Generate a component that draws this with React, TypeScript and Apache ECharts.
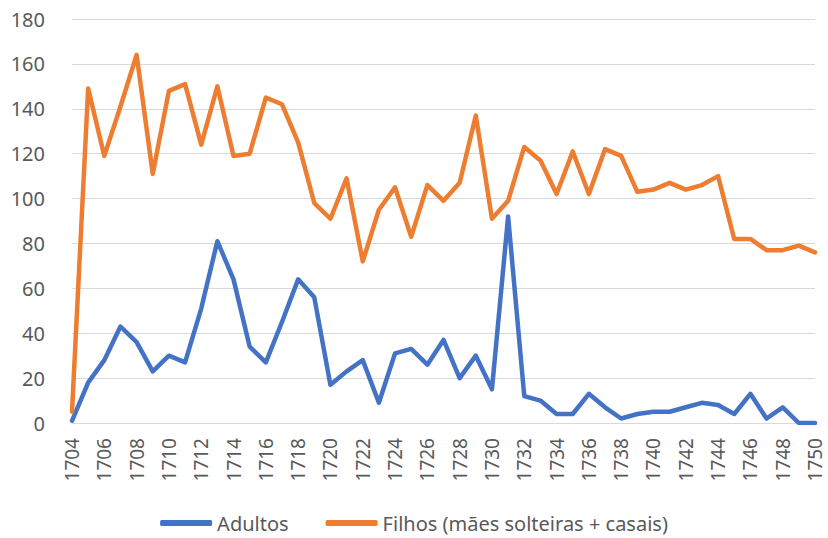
import React, { useEffect, useRef } from "react";
import * as echarts from "echarts";

const years: string[] = [];
for (let y = 1704; y <= 1750; y++) years.push(String(y));

const adultos = [
  1, 18, 28, 43, 36, 23, 30, 27, 51, 81, 64, 34, 27, 45, 64, 56, 17, 23, 28, 9,
  31, 33, 26, 37, 20, 30, 15, 92, 12, 10, 4, 4, 13, 7, 2, 4, 5, 5, 7, 9, 8, 4,
  13, 2, 7, 0, 0,
];

const filhos = [
  5, 149, 119, 141, 164, 111, 148, 151, 124, 150, 119, 120, 145, 142, 125, 98,
  91, 109, 72, 95, 105, 83, 106, 99, 107, 137, 91, 99, 123, 117, 102, 121, 102,
  122, 119, 103, 104, 107, 104, 106, 110, 82, 82, 77, 77, 79, 76,
];

const FONT = "'Noto Sans', sans-serif";

export default function App() {
  const ref = useRef<HTMLDivElement>(null);
  useEffect(() => {
    if (!ref.current) return;
    const chart = echarts.init(ref.current, undefined, { renderer: "svg" });
    chart.setOption({
      animation: false,
      backgroundColor: "#ffffff",
      grid: { left: 72, right: 13, top: 19, bottom: 115 },
      legend: {
        top: 508,
        left: "center",
        icon: "roundRect",
        itemWidth: 52,
        itemHeight: 6,
        itemGap: 37,
        textStyle: { fontFamily: FONT, fontSize: 20, color: "#595959" },
        data: ["Adultos", "Filhos (mães solteiras + casais)"],
      },
      xAxis: {
        type: "category",
        data: years,
        boundaryGap: false,
        axisLine: { lineStyle: { color: "#d9d9d9", width: 1 } },
        axisTick: { show: false },
        axisLabel: {
          rotate: 90,
          interval: 1,
          margin: 15,
          fontFamily: FONT,
          fontSize: 19,
          color: "#595959",
        },
      },
      yAxis: {
        type: "value",
        min: 0,
        max: 180,
        interval: 20,
        axisLine: { show: false },
        axisTick: { show: false },
        axisLabel: {
          margin: 27,
          fontFamily: FONT,
          fontSize: 20,
          color: "#595959",
        },
        splitLine: { lineStyle: { color: "#d9d9d9", width: 1 } },
      },
      series: [
        {
          name: "Adultos",
          type: "line",
          data: adultos,
          symbol: "none",
          lineStyle: { color: "#4472C4", width: 4.5, cap: "round", join: "round" },
          itemStyle: { color: "#4472C4" },
        },
        {
          name: "Filhos (mães solteiras + casais)",
          type: "line",
          data: filhos,
          symbol: "none",
          lineStyle: { color: "#ED7D31", width: 4.5, cap: "round", join: "round" },
          itemStyle: { color: "#ED7D31" },
        },
      ],
    });
    return () => chart.dispose();
  }, []);
  return (
    <div
      ref={ref}
      style={{ position: "fixed", left: 0, top: 0, width: 828, height: 538 }}
    />
  );
}
